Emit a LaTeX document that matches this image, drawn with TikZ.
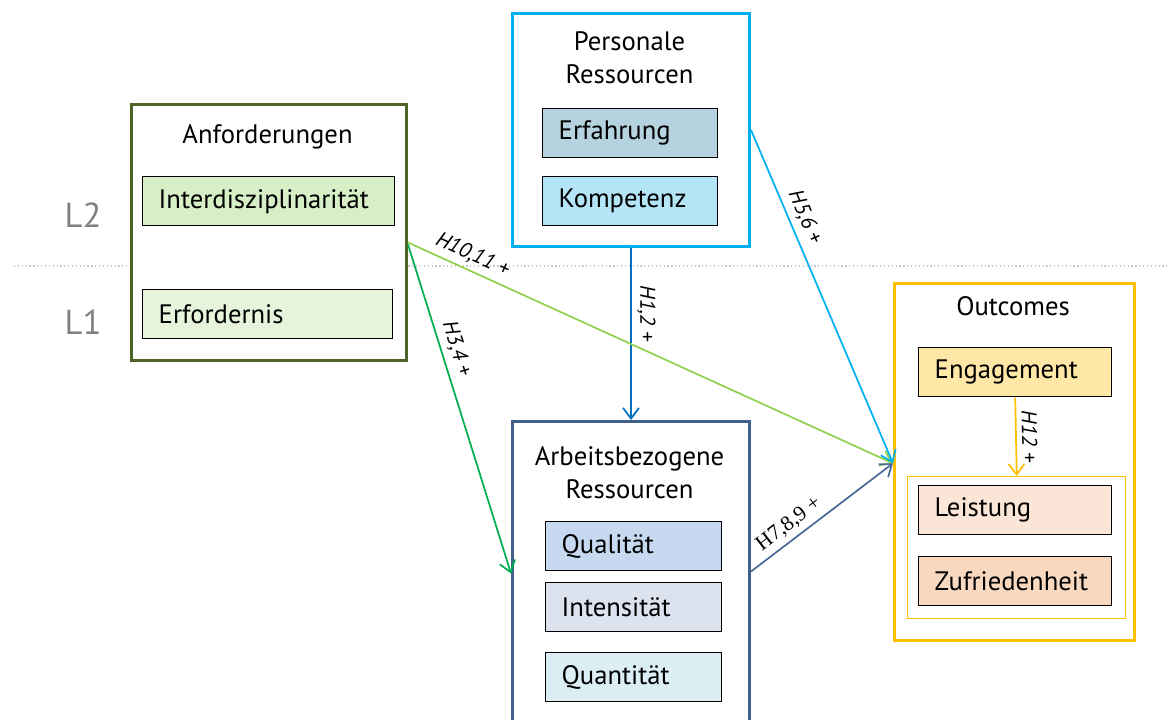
\documentclass[tikz,border=0pt]{standalone}
\usepackage{fontspec}
\setmainfont{PT Sans}
\newfontfamily\serifnum{Liberation Serif}
\usetikzlibrary{arrows.meta}

\definecolor{anfline}{HTML}{4F6228}
\definecolor{interfill}{HTML}{D7EFC6}
\definecolor{erffill}{HTML}{E6F4DC}
\definecolor{persline}{HTML}{00B0F0}
\definecolor{erfahrfill}{HTML}{B5D3DE}
\definecolor{kompfill}{HTML}{B3E5F7}
\definecolor{arbline}{HTML}{41618C}
\definecolor{qualfill}{HTML}{C6D9F0}
\definecolor{intfill}{HTML}{DCE3EF}
\definecolor{quantfill}{HTML}{DAEEF3}
\definecolor{outline}{HTML}{FFC000}
\definecolor{engfill}{HTML}{FFE7A8}
\definecolor{leistfill}{HTML}{FBE5D6}
\definecolor{zuffill}{HTML}{F8D8BF}
\definecolor{hblue}{HTML}{0070C0}
\definecolor{hgreen}{HTML}{00B050}
\definecolor{hlime}{HTML}{92D050}
\definecolor{hsteel}{HTML}{4A6B9A}
\definecolor{levelgray}{HTML}{808080}

\tikzset{
  groupbox/.style={draw, line width=2.25pt, fill=white, anchor=north west, inner sep=0pt},
  item/.style={draw=black, line width=1.1pt, anchor=north west, inner xsep=12pt,
    inner ysep=0pt, minimum height=36.75pt, align=left,
    font=\fontsize{20pt}{24pt}\selectfont},
  title/.style={align=center, inner sep=0pt, font=\fontsize{20pt}{24.75pt}\selectfont},
  hyp/.style={line width=1.3pt, -{Straight Barb[length=8pt,width=12pt,line width=1.3pt]}},
  hlabel/.style={sloped, above=3pt, inner sep=1pt, text=black,
    font=\fontsize{16pt}{18pt}\selectfont\itshape},
  level/.style={text=levelgray, inner sep=0pt, font=\fontsize{26pt}{30pt}\selectfont},
}

\begin{document}
\begin{tikzpicture}[x=0.75pt, y=-0.75pt]
\useasboundingbox (0,0) rectangle (1168,720);
\clip (0,0) rectangle (1168,720);

% level divider and level names
\coordinate (divl) at (14,266);
\coordinate (divr) at (1168,266);
\draw[gray!45, line width=0.9pt, dotted] (divl) -- (divr);
\node[level] (lvtwo) at (83,215) {L2};
\node[level] (lvone) at (83,322) {L1};

% Anforderungen
\node[groupbox, draw=anfline, minimum width=206.25pt, minimum height=192pt] (anf) at (130,103) {};
\node[title] (anft) at (267.5,137) {Anforderungen};
\node[item, fill=interfill, text width=165pt] (inter) at (142,176) {Interdisziplinarität};
\node[item, fill=erffill, text width=163.5pt] (erf) at (142,289) {Erfordernis};

% Personale Ressourcen
\node[groupbox, draw=persline, minimum width=177.75pt, minimum height=174.75pt] (pers) at (511,12) {};
\node[title] (perst) at (629.5,57.5) {Personale\\Ressourcen};
\node[item, fill=erfahrfill, text width=107.25pt] (erfahr) at (542,108) {Erfahrung};
\node[item, fill=kompfill, text width=107.25pt] (komp) at (542,176) {Kompetenz};

% Arbeitsbezogene Ressourcen
\node[groupbox, draw=arbline, minimum width=177.75pt, minimum height=240pt] (arb) at (511,420) {};
\node[title] (arbt) at (629.5,472.5) {Arbeitsbezogene\\Ressourcen};
\node[item, fill=qualfill, text width=108pt] (qual) at (545,521) {Qualität};
\node[item, fill=intfill, text width=108pt] (intens) at (545,582) {Intensität};
\node[item, fill=quantfill, text width=108pt] (quant) at (545,652) {Quantität};

% Outcomes
\node[groupbox, draw=outline, minimum width=180pt, minimum height=267.75pt] (out) at (893,282) {};
\node[title] (outt) at (1013,306) {Outcomes};
\node[item, fill=engfill, text width=120.75pt] (eng) at (918,347) {Engagement};
\node[draw=outline, line width=1.1pt, anchor=north west, inner sep=0pt,
      minimum width=163.5pt, minimum height=106.5pt] (perf) at (907,476) {};
\node[item, fill=leistfill, text width=120.75pt] (leist) at (918,485) {Leistung};
\node[item, fill=zuffill, text width=120.75pt] (zuf) at (918,556) {Zufriedenheit};

% hypotheses
\draw[hyp, hblue] (pers.south) -- node[hlabel, pos=0.38] (hone) {H1,2 +} (arb.north);
\draw[hyp, hgreen] ([yshift=-9pt]anf.east) -- node[hlabel, pos=0.33] (hthree) {H3,4 +} ([yshift=6pt]arb.west);
\draw[hyp, hlime] ([yshift=-7.5pt]anf.east) -- node[hlabel, pos=0.12] (hten) {H10,11 +} ([yshift=-1pt]out.west);
\draw[hyp, persline] (pers.east) -- node[hlabel, pos=0.28] (hfive) {H5,6 +} ([yshift=-1pt]out.west);
\draw[hyp, hsteel] ([yshift=7.5pt]arb.east) -- node[hlabel, pos=0.33, font=\fontsize{16pt}{18pt}\selectfont\serifnum] (hseven) {H7,8,9 +} ([yshift=-1pt]out.west);
\draw[hyp, outline] (eng.south) -- node[hlabel, pos=0.5] (htwelve) {H12 +} (perf.north);
\end{tikzpicture}
\end{document}
